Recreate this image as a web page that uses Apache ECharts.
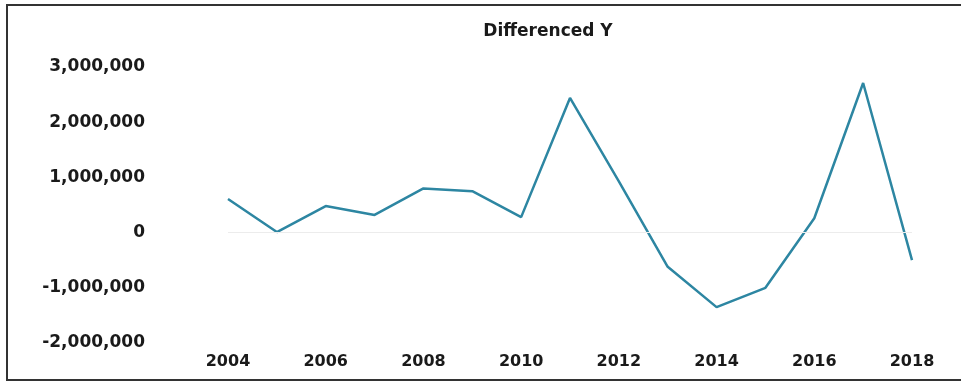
<!DOCTYPE html>
<html>
<head>
<meta charset="utf-8">
<script src="https://cdn.jsdelivr.net/npm/echarts@6/dist/echarts.min.js"></script>
<style>
  html, body { margin: 0; padding: 0; background: #fff; }
  #chart { width: 961px; height: 383px; }
</style>
</head>
<body>
<div id="chart"></div>
<script>
// Year-over-year differences of Y
const years = [2004, 2005, 2006, 2007, 2008, 2009, 2010, 2011, 2012, 2013, 2014, 2015, 2016, 2017, 2018];
const diffY = [610000, 10000, 480000, 320000, 800000, 750000, 280000, 2440000, 930000, -620000, -1350000, -1000000, 260000, 2710000, -500000];
const yTicks = [-2000000, -1000000, 0, 1000000, 2000000, 3000000];
const chartTitle = 'Differenced Y';

const points = years.map((yr, i) => [yr, diffY[i]]);
const fmt = v => v.toLocaleString('en-US');
const font = 'DejaVu Sans';

const chart = echarts.init(document.getElementById('chart'));
chart.setOption({
  animation: false,
  backgroundColor: '#ffffff',
  title: {
    text: chartTitle,
    left: 543,
    top: 18,
    textAlign: 'center',
    textStyle: { fontFamily: font, fontSize: 17, fontWeight: 'bold', color: '#1a1a1a' }
  },
  graphic: [{
    type: 'rect',
    shape: { x: 7, y: 5, width: 960, height: 375 },
    style: { fill: 'none', stroke: '#333', lineWidth: 2 },
    silent: true
  }],
  grid: { left: 228, right: 49, top: 67, bottom: 40 },
  xAxis: {
    type: 'value',
    min: 2004,
    max: 2018,
    interval: 2,
    axisLine: { show: false },
    axisTick: { show: false },
    splitLine: { show: false },
    axisLabel: {
      margin: 11,
      fontFamily: font, fontSize: 16, fontWeight: 'bold', color: '#1a1a1a',
      formatter: v => String(v)
    }
  },
  yAxis: {
    type: 'value',
    min: yTicks[0],
    max: yTicks[yTicks.length - 1],
    interval: 1000000,
    axisLine: { show: false },
    axisTick: { show: false },
    splitLine: { show: false },
    axisLabel: {
      margin: 83,
      fontFamily: font, fontSize: 17, fontWeight: 'bold', color: '#1a1a1a',
      formatter: v => fmt(v)
    }
  },
  series: [{
    type: 'line',
    data: points,
    symbol: 'none',
    lineStyle: { color: '#2d86a2', width: 2.5 },
    markLine: {
      silent: true,
      symbol: 'none',
      label: { show: false },
      lineStyle: { color: '#ececec', width: 1, type: 'solid' },
      data: [{ yAxis: 0 }]
    }
  }]
});
</script>
</body>
</html>
